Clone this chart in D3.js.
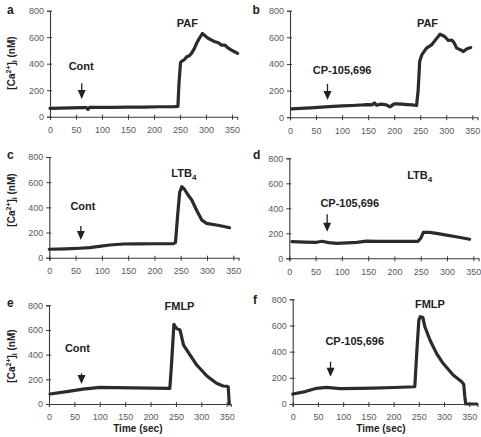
<!DOCTYPE html>
<html><head><meta charset="utf-8">
<script src="https://cdn.jsdelivr.net/npm/d3@7"></script>
<style>
body{margin:0;background:#fff;}
svg{display:block;font-family:"Liberation Sans",Arial,sans-serif;}
</style></head>
<body>
<svg id="c" width="481" height="437"></svg>
<script>
// ---- data (time in sec, [Ca2+]i in nM) ----
const xTicks = [0, 50, 100, 150, 200, 250, 300, 350];
const yTicks = [0, 200, 400, 600, 800];

const timeA = [0, 20, 40, 60, 70, 73, 76, 90, 120, 150, 180, 210, 240, 246, 248, 251, 254, 258, 263, 268, 272, 277, 282, 287, 293, 297, 304, 310, 317, 323, 330, 336, 342, 349, 355, 361];
const caA   = [63, 64, 66, 68, 69, 55, 70, 70, 71, 73, 73, 75, 76, 78, 250, 410, 420, 430, 452, 460, 478, 510, 554, 590, 628, 615, 592, 580, 566, 560, 540, 541, 520, 503, 490, 478];

const timeB = [3, 20, 40, 60, 83, 100, 120, 140, 150, 158, 162, 166, 175, 185, 192, 200, 205, 215, 225, 235, 243, 246, 249, 253, 262, 272, 282, 288, 297, 304, 310, 315, 320, 327, 333, 339, 347];
const caB   = [62, 66, 70, 75, 82, 85, 88, 92, 95, 92, 108, 90, 98, 92, 78, 100, 100, 98, 95, 92, 88, 200, 420, 468, 519, 544, 594, 624, 606, 576, 580, 560, 519, 507, 493, 512, 523];

const timeC = [0, 30, 58, 77, 95, 115, 141, 170, 200, 236, 240, 244, 248, 252, 258, 264, 271, 280, 290, 299, 310, 318, 330, 343];
const caC   = [67, 70, 75, 80, 90, 101, 109, 110, 111, 112, 120, 330, 520, 564, 538, 498, 458, 379, 300, 273, 265, 260, 250, 238];

const timeD = [5, 30, 52, 62, 75, 90, 110, 128, 147, 170, 200, 223, 245, 250, 255, 267, 280, 299, 320, 343];
const caD   = [133, 130, 128, 136, 125, 120, 124, 128, 138, 136, 135, 135, 136, 160, 208, 208, 200, 186, 170, 152];

const timeE = [2, 35, 67, 100, 130, 166, 200, 238, 241, 246, 251, 258, 265, 278, 291, 311, 330, 343, 350, 353, 355];
const caE   = [81, 100, 121, 135, 133, 130, 128, 127, 300, 645, 613, 600, 478, 397, 316, 227, 168, 146, 144, 140, 0];

const timeF = [0, 25, 47, 67, 94, 130, 160, 200, 242, 246, 250, 253, 258, 262, 272, 285, 298, 318, 335, 339, 341, 343, 365];
const caF   = [76, 95, 120, 127, 117, 120, 122, 126, 132, 400, 640, 667, 660, 590, 489, 387, 311, 221, 170, 150, 60, 0, 0];

const letters   = ["a", "b", "c", "d", "e", "f"];
const agonists  = ["PAF", "PAF", "LTB", "LTB", "FMLP", "FMLP"];
const agonistSub = ["", "", "4", "4", "", ""];
const treatments = ["Cont", "CP-105,696", "Cont", "CP-105,696", "Cont", "CP-105,696"];
// annotation anchors in data units: [t, value]
const agonistPos   = [[264, 675], [264, 677], [256, 643], [248, 638], [257, 762], [272, 731]];
const treatPos     = [[60, 352], [100, 326], [64, 379], [115, 413], [56, 424], [123, 451]];
const arrowT       = [61, 72, 60, 72, 64, 75];
const arrowFrom    = [252, 250, 252, 352, 249, 323];
const arrowTo      = [134, 130, 141, 213, 162, 209];

// ---- layout ----
const panels = [
  {x0: 50,    kx: 182/350,   xMax: 360, yTop: 10.7,  yBot: 116.7, t: timeA, v: caA},
  {x0: 290,   kx: 182.3/350, xMax: 360, yTop: 10.7,  yBot: 117.2, t: timeB, v: caB},
  {x0: 49.3,  kx: 184/350,   xMax: 360, yTop: 157,   yBot: 257.7, t: timeC, v: caC},
  {x0: 289.3, kx: 184/350,   xMax: 360, yTop: 158.3, yBot: 258.3, t: timeD, v: caD},
  {x0: 49,    kx: 177.7/350, xMax: 358, yTop: 305.3, yBot: 404,   t: timeE, v: caE},
  {x0: 292.7, kx: 176.6/350, xMax: 366, yTop: 299.3, yBot: 404,   t: timeF, v: caF}
];
const letterPos = [[7, 14], [252.5, 13.5], [7, 158.5], [253, 159], [7, 306.5], [253, 304]];
const ylabelPos = [[11, 63], null, [11, 200], null, [11, 356], null];

const svg = d3.select("#c");
const axisCol = "#3a3a3a", tickTxt = "#5a5a5a", lineCol = "#2b2b2b", txtCol = "#222";

panels.forEach((p, i) => {
  const x = d3.scaleLinear().domain([0, p.xMax]).range([p.x0, p.x0 + p.xMax * p.kx]);
  const y = d3.scaleLinear().domain([0, 800]).range([p.yBot, p.yTop]);
  const g = svg.append("g");

  const xa = g.append("g").attr("transform", `translate(0,${p.yBot})`)
    .call(d3.axisBottom(x).tickValues(xTicks).tickSizeOuter(0).tickSize(3).tickPadding(7));
  xa.selectAll(".tick line").attr("y1", -2);
  const ya = g.append("g").attr("transform", `translate(${p.x0},0)`)
    .call(d3.axisLeft(y).tickValues(yTicks).tickSizeOuter(0).tickSize(3).tickPadding(3));
  ya.selectAll(".tick line").attr("x1", 2);
  [xa, ya].forEach(a => {
    a.select(".domain").attr("stroke", axisCol).attr("stroke-width", 1.1);
    a.selectAll(".tick line").attr("stroke", axisCol);
    a.selectAll("text").attr("fill", tickTxt).attr("font-size", 9).attr("font-family", "Liberation Sans, Arial, sans-serif");
  });

  const pts = p.t.map((t, j) => [t, p.v[j]]);
  g.append("path").datum(pts)
    .attr("d", d3.line().x(d => x(d[0])).y(d => y(d[1])))
    .attr("fill", "none").attr("stroke", lineCol).attr("stroke-width", 3.2)
    .attr("stroke-linejoin", "round").attr("stroke-linecap", "round");

  // panel letter
  g.append("text").attr("x", letterPos[i][0]).attr("y", letterPos[i][1])
    .attr("font-size", 12).attr("font-weight", "bold").attr("fill", txtCol).text(letters[i]);

  // agonist label
  const ag = g.append("text").attr("x", x(agonistPos[i][0])).attr("y", y(agonistPos[i][1]))
    .attr("text-anchor", "middle").attr("font-size", 11).attr("font-weight", "bold").attr("fill", txtCol);
  ag.append("tspan").text(agonists[i]);
  if (agonistSub[i]) ag.append("tspan").attr("dy", 3).attr("font-size", 8).text(agonistSub[i]);

  // treatment label
  g.append("text").attr("x", x(treatPos[i][0])).attr("y", y(treatPos[i][1]))
    .attr("text-anchor", "middle").attr("font-size", 11).attr("font-weight", "bold").attr("fill", txtCol)
    .text(treatments[i]);

  // arrow
  const ax = x(arrowT[i]), ay1 = y(arrowFrom[i]), ay2 = y(arrowTo[i]);
  g.append("line").attr("x1", ax).attr("x2", ax).attr("y1", ay1).attr("y2", ay2 - 8)
    .attr("stroke", txtCol).attr("stroke-width", 1.3);
  g.append("path").attr("d", `M${ax - 4},${ay2 - 9}L${ax + 4},${ay2 - 9}L${ax},${ay2}Z`).attr("fill", txtCol);

  // y label
  if (ylabelPos[i]) {
    const [lx, ly] = ylabelPos[i];
    const yl = g.append("text").attr("transform", `translate(${lx + 3.5},${ly}) rotate(-90)`)
      .attr("text-anchor", "middle").attr("font-size", 10).attr("font-weight", "bold").attr("fill", txtCol);
    yl.append("tspan").text("[Ca");
    yl.append("tspan").attr("dy", -4).attr("font-size", 7).text("2+");
    yl.append("tspan").attr("dy", 4).text("]");
    yl.append("tspan").attr("dy", 2.5).attr("font-size", 7).text("i");
    yl.append("tspan").attr("dy", -2.5).text(" (nM)");
  }
  // x label for bottom row
  if (i >= 4) {
    g.append("text").attr("x", x(175)).attr("y", 432)
      .attr("text-anchor", "middle").attr("font-size", 10).attr("font-weight", "bold").attr("fill", txtCol)
      .text("Time (sec)");
  }
});
</script>
</body></html>
